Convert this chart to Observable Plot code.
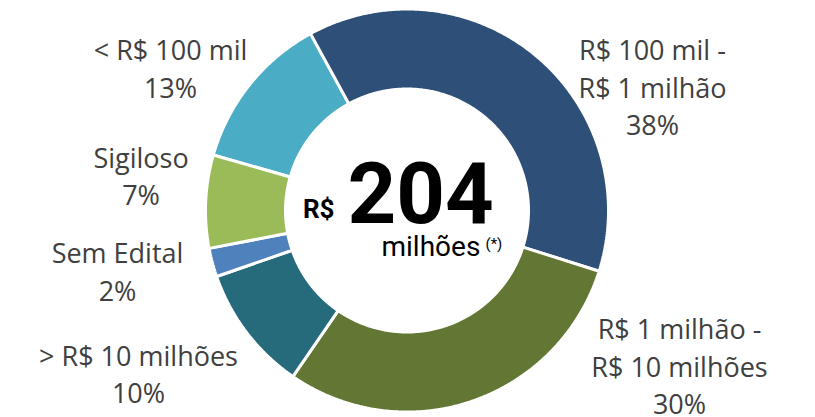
<!DOCTYPE html>
<html>
<head>
<meta charset="utf-8">
<script src="https://cdn.jsdelivr.net/npm/d3@7"></script>
<script src="https://cdn.jsdelivr.net/npm/@observablehq/plot@0.6"></script>
<style>
  html, body { margin: 0; padding: 0; background: #fff; }
  #chart svg { display: block; }
</style>
</head>
<body>
<div id="chart"></div>
<script>
// ---- data (clockwise from the "< R$ 100 mil" slice) ----
const categories = ["< R$ 100 mil", "R$ 100 mil -\nR$ 1 milhão", "R$ 1 milhão -\nR$ 10 milhões", "> R$ 10 milhões", "Sem Edital", "Sigiloso"];
const shares = [12.6, 37.8, 29.7, 10.1, 2.3, 7.45];
const pctLabels = ["13%", "38%", "30%", "10%", "2%", "7%"];
const totalValue = "204";
const totalPrefix = "R$";
const totalUnit = "milhões";
const totalNote = "(*)";

// ---- styles / layout ----
const palette = ["#4BACC6", "#2E4F77", "#617733", "#266B7C", "#4F81BD", "#9BBB59"];
const W = 815, H = 417;
const cx = 406.5, cy = 210, rOuter = 201.5, rInner = 121.5;
const startDeg = -74;
const labelPos = [[170, 66.7], [652, 85.4], [679, 364.4], [138, 371.9], [117, 269.7], [140.5, 174.2]];

const pie = d3.pie().sort(null).value(d => d.share).startAngle(startDeg * Math.PI / 180).endAngle((startDeg + 360) * Math.PI / 180);
const rows = categories.map((c, i) => ({cat: c, share: shares[i], pct: pctLabels[i]}));
const arcs = pie(rows);

const ringPts = [];
arcs.forEach(a => {
  const n = Math.max(4, Math.ceil((a.endAngle - a.startAngle) / (Math.PI / 360)));
  for (let k = 0; k <= n; k++) {
    const t = a.startAngle + (a.endAngle - a.startAngle) * k / n;
    ringPts.push({cat: a.data.cat, px: cx + rOuter * Math.sin(t), py: cy - rOuter * Math.cos(t)});
  }
  for (let k = n; k >= 0; k--) {
    const t = a.startAngle + (a.endAngle - a.startAngle) * k / n;
    ringPts.push({cat: a.data.cat, px: cx + rInner * Math.sin(t), py: cy - rInner * Math.cos(t)});
  }
});

const labels = rows.map((r, i) => ({text: r.cat + "\n" + r.pct, px: labelPos[i][0], py: labelPos[i][1]}));

const chart = Plot.plot({
  width: W, height: H,
  margin: 0,
  x: {domain: [0, W], range: [0, W], axis: null},
  y: {domain: [0, H], range: [0, H], axis: null},
  color: {type: "ordinal", domain: categories, range: palette},
  style: {background: "#fff"},
  marks: [
    Plot.line(ringPts, {x: "px", y: "py", z: "cat", fill: "cat", stroke: "#fff", strokeWidth: 3, curve: "linear-closed", strokeLinejoin: "miter"}),
    Plot.text(labels, {x: "px", y: "py", text: "text", textAnchor: "middle", lineAnchor: "middle", lineHeight: 1.39, fontSize: 27, fontFamily: "Open Sans", fill: "#404040"}),
    Plot.text([totalPrefix], {x: () => 334, y: () => 209.2, text: d => d, textAnchor: "end", fontSize: 26, fontWeight: "bold", fontFamily: "Roboto", fill: "#000"}),
    Plot.text([totalValue], {x: () => 347, y: () => 194.8, text: d => d, textAnchor: "start", fontSize: 85, fontWeight: "bold", fontFamily: "Roboto", fill: "#000"}),
    Plot.text([totalUnit], {x: () => 381, y: () => 246.7, text: d => d, textAnchor: "start", fontSize: 28, fontFamily: "Roboto", fill: "#000"}),
    Plot.text([totalNote], {x: () => 485, y: () => 243.2, text: d => d, textAnchor: "start", fontSize: 15, fontFamily: "Roboto", fill: "#000"})
  ]
});
document.getElementById("chart").appendChild(chart);
</script>
</body>
</html>
